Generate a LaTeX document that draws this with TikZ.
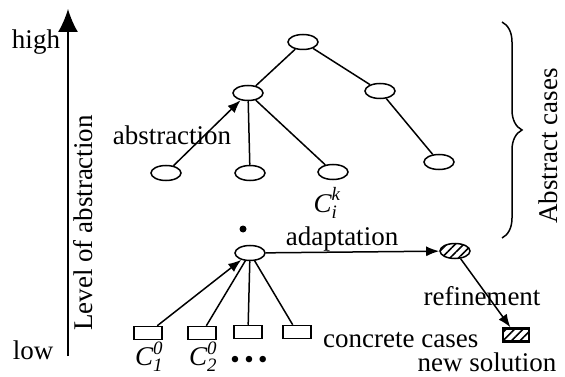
\documentclass[tikz,border=0pt]{standalone}
\usepackage{amsmath}
\usepackage{fontspec}
\setmainfont{Liberation Serif}
\usetikzlibrary{arrows.meta,decorations.pathreplacing,patterns.meta,shapes.geometric}
\begin{document}
\begin{tikzpicture}[x=1pt,y=-1pt,
  every node/.style={font=\fontsize{27}{30}\selectfont},
  case/.style={draw,ellipse,line width=1.5pt,minimum width=30pt,minimum height=15pt,inner sep=0pt},
  leafcase/.style={draw,rectangle,line width=1.5pt,minimum width=28pt,minimum height=13pt,inner sep=0pt},
  hatch/.style={pattern={Lines[angle=45,distance=6pt,line width=1.6pt]}},
  link/.style={line width=1.5pt},
  arr/.style={line width=1.5pt,-{Latex[length=13pt,width=10pt]}},
  txt/.style={inner sep=0pt,anchor=center}]
\useasboundingbox (0,0) rectangle (565,377);

% abstraction axis
\coordinate (axlow) at (68,356);
\coordinate (axhigh) at (68,9);
\draw[line width=1.5pt,-{Latex[length=23pt,width=20pt]}] (axlow) -- (axhigh);
\node[txt] (high) at (36,42) {high};
\node[txt] (low) at (33,350) {low};
\node[txt,rotate=90] (level) at (83,223) {Level of abstraction};

% tree of abstract cases
\node[case] (root) at (303,42) {};
\node[case] (ca) at (248,93) {};
\node[case] (cb) at (380,91) {};
\node[case] (l1) at (166,173) {};
\node[case] (l2) at (250,173) {};
\node[case] (l3) at (333,172) {};
\node[case] (l4) at (439,162) {};
\draw[link] (root) -- (ca);
\draw[link] (root) -- (cb);
\draw[arr] (l1) -- (ca);
\draw[link] (l2) -- (ca);
\draw[link] (l3) -- (ca);
\draw[link] (l4) -- (cb);
\node[txt] (abstr) at (172,135) {abstraction};
\node[txt] (cik) at (327,203) {$\textit{C}^{\textit{k}}_{\textit{i}}$};
\fill (243,229) circle (3.5pt);

% concrete cases and adaptation
\node[case] (mid) at (250,253) {};
\node[case,hatch] (adapt) at (455,251) {};
\draw[arr] (mid) -- (adapt);
\node[txt] (adlab) at (342,239) {adaptation};
\node[leafcase] (b1) at (148,333) {};
\node[leafcase] (b2) at (202,333) {};
\node[leafcase] (b3) at (248,332) {};
\node[leafcase] (b4) at (297,332) {};
\draw[arr] (b1) -- (mid);
\draw[link] (b2) -- (mid);
\draw[link] (b3) -- (mid);
\draw[link] (b4) -- (mid);
\node[txt] (c1) at (149,357) {$\textit{C}^{\textit{0}}_{\textit{1}}$};
\node[txt] (c2) at (203,357) {$\textit{C}^{\textit{0}}_{\textit{2}}$};
\node[txt] (dots) at (249,362) {\textbullet\,\textbullet\,\textbullet};
\node[txt,anchor=west] (concrete) at (323,340) {concrete cases};

% refined new solution
\node[draw,rectangle,line width=2.4pt,minimum width=26pt,minimum height=13pt,inner sep=0pt,hatch] (sol) at (516,335) {};
\draw[arr] (adapt) -- (sol);
\node[txt] (refine) at (482,296) {refinement};
\node[txt] (newsol) at (487,362) {new solution};

% brace over the abstract levels
\coordinate (brtop) at (502,22);
\coordinate (brbot) at (502,238);
\draw[line width=1.5pt,decorate,decoration={brace,amplitude=20pt}] (brtop) -- (brbot);
\node[txt,rotate=90] (abscases) at (548,146) {Abstract cases};
\end{tikzpicture}
\end{document}
